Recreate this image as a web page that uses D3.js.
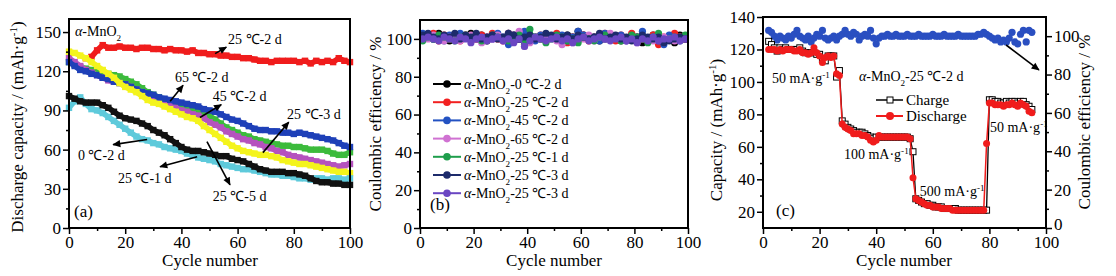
<!DOCTYPE html>
<html>
<head>
<meta charset="utf-8">
<script src="https://cdn.jsdelivr.net/npm/d3@7"></script>
<style>
body { margin: 0; background: #fff; }
svg { display: block; font-family: "Liberation Serif", "Times New Roman", serif; }
</style>
</head>
<body>
<div id="chart"></div>
<script>
// ---------- data ----------
// panel (a): discharge capacity, every 2nd cycle
const cyclesA = d3.range(0, 101, 2);
const capRed25_2 = [null, null, null, 130, 131, 136, 140, 138, 138, 139, 138, 138, 137, 138, 138, 137, 137, 136, 137, 136, 136, 135, 136, 134, 134, 133, 133, 132, 132, 131, 131, 130, 130, 129, 128, 128, 127, 128, 128, 128, 128, 127, 128, 126, 128, 127, 128, 127, 130, 128, 127];
const capBlue45 = [127, 124, 121, 120, 118, 117, 115, 114, 112, 111, 110, 108, 106, 104, 103, 102, 100, 99, 98, 97, 96, 95, 94, 93, 91, 90, 89, 87, 85, 83, 82, 80, 78, 76, 75, 75, 74, 74, 73, 73, 72, 73, 72, 71, 70, 69, 68, 67, 65, 63, 62];
const capGreen = [127, 125, 123, 122, 121, 120, 119, 118, 117, 116, 114, 112, 110, 107, 104, 102, 100, 98, 96, 95, 93, 92, 91, 90, 88, 86, 83, 80, 77, 75, 73, 71, 70, 68, 67, 66, 65, 64, 63, 63, 62, 62, 61, 60, 60, 60, 59, 57, 56, 56, 58];
const capMagenta = [130, 127, 124, 121, 119, 117, 115, 113, 112, 111, 110, 108, 106, 104, 102, 100, 98, 96, 94, 92, 90, 89, 87, 86, 84, 81, 79, 77, 74, 72, 70, 68, 67, 65, 64, 62, 61, 59, 58, 56, 55, 54, 53, 52, 51, 50, 49, 48, 47, 48, 49];
const capYellow = [135, 134, 132, 130, 127, 124, 121, 118, 115, 111, 108, 106, 104, 101, 98, 96, 95, 93, 91, 89, 87, 85, 84, 82, 78, 75, 72, 69, 66, 63, 61, 59, 58, 57, 56, 56, 55, 54, 52, 51, 50, 49, 49, 48, 47, 46, 45, 44, 43, 43, 42];
const capCyan = [92, 97, 100, 95, 91, 90, 88, 85, 82, 79, 76, 73, 70, 68, 67, 65, 64, 62, 61, 60, 59, 57, 56, 54, 53, 52, 51, 49, 48, 47, 46, 45, 45, 44, 43, 42, 41, 41, 40, 40, 39, 38, 38, 37, 38, 38, 37, 38, 38, 37, 38];
const capBlack0 = [101, 99, 97, 96, 96, 96, 94, 92, 89, 86, 84, 83, 82, 80, 78, 75, 73, 71, 68, 65, 62, 60, 59, 59, 58, 57, 56, 55, 55, 53, 52, 51, 49, 47, 45, 44, 43, 43, 43, 42, 42, 41, 40, 38, 36, 35, 35, 34, 34, 33, 33];

// panel (b): coulombic efficiency, every 2nd cycle
const cyclesB = d3.range(1, 100, 2);
const legendB = ["0 ℃-2 d", "25 ℃-2 d", "45 ℃-2 d", "65 ℃-2 d", "25 ℃-1 d", "25 ℃-3 d", "25 ℃-3 d"];
const ceBlack = [101, 102, 100, 103, 101, 99, 102, 100, 101, 103, 100, 102, 99, 101, 102, 100, 103, 101, 100, 99, 102, 101, 100, 102, 101, 100, 99, 102, 101, 104, 102, 100, 101, 99, 102, 100, 101, 99, 100, 102, 101, 98, 100, 102, 101, 99, 100, 98, 102, 100];
const ceRed = [100, 101, 103, 99, 102, 100, 101, 99, 102, 101, 100, 102, 101, 103, 100, 99, 101, 102, 100, 97, 101, 100, 102, 99, 101, 103, 100, 98, 101, 100, 102, 99, 101, 100, 103, 101, 99, 102, 100, 103, 101, 100, 99, 102, 97, 101, 100, 103, 101, 100];
const ceBlue = [103, 102, 100, 101, 99, 102, 100, 103, 101, 100, 102, 99, 101, 100, 103, 101, 97, 102, 100, 104, 101, 99, 102, 100, 101, 100, 102, 99, 101, 104, 102, 100, 101, 99, 103, 100, 101, 102, 99, 100, 101, 104, 100, 101, 99, 97, 102, 100, 99, 101];
const cePink = [101, 100, 102, 101, 99, 101, 100, 99, 101, 102, 100, 98, 101, 100, 102, 99, 103, 101, 104, 96, 98, 101, 100, 102, 101, 99, 97, 100, 98, 101, 100, 102, 99, 101, 100, 103, 101, 100, 99, 101, 98, 101, 100, 99, 102, 101, 100, 99, 101, 100];
const ceGreen = [99, 101, 100, 102, 101, 100, 99, 101, 102, 100, 101, 99, 100, 102, 101, 100, 99, 101, 102, 98, 105, 101, 100, 98, 100, 102, 101, 99, 100, 98, 101, 100, 99, 101, 102, 100, 101, 99, 100, 102, 101, 100, 98, 101, 103, 99, 100, 101, 100, 102];
const ceNavy = [102, 103, 101, 100, 102, 101, 103, 100, 102, 101, 103, 100, 101, 102, 100, 101, 103, 102, 100, 101, 102, 100, 101, 103, 102, 100, 101, 102, 100, 102, 101, 100, 101, 103, 100, 101, 102, 100, 101, 99, 100, 102, 101, 100, 101, 98, 99, 100, 101, 100];
const cePurple = [100, 101, 100, 99, 101, 100, 99, 101, 100, 98, 100, 101, 99, 100, 101, 99, 100, 98, 100, 96, 99, 101, 100, 99, 100, 101, 99, 100, 98, 100, 101, 99, 100, 101, 100, 99, 100, 101, 99, 100, 98, 100, 99, 101, 99, 100, 100, 101, 99, 100];

// panel (c): rate test, cycles 2..95
const cyclesC = d3.range(2, 96);
const charge = [125, 123, 121, 119, 121, 120, 121, 120, 120, 120,
  120, 121, 119, 118, 118, 118, 118, 117, 117, 114,
  113, 116, 116, 116, 103, 107, 76, 74, 72, 71,
  70, 69, 69, 69, 68, 67, 66, 65, 66, 66,
  66, 66, 66, 66, 66, 66, 66, 66, 66, 66,
  65, 57, 28, 27, 26, 25, 25, 24, 24, 23,
  23, 23, 22, 22, 22, 22, 22, 21, 21, 21,
  21, 21, 21, 21, 21, 21, 21, 21, 89, 89,
  88, 88, 87, 87, 88, 87, 88, 88, 87, 88,
  88, 86, 85, 83];
const discharge = [120, 120, 120, 119, 120, 119, 120, 120, 120, 119,
  119, 120, 118, 118, 117, 118, 121, 118, 116, 112,
  115, 116, 115, 116, 105, 104, 74, 72, 71, 70,
  68, 68, 68, 67, 67, 66, 64, 63, 64, 67,
  66, 66, 66, 66, 66, 66, 66, 66, 66, 66,
  65, 41, 28, 27, 26, 25, 24, 24, 23, 23,
  23, 22, 22, 22, 22, 21, 21, 21, 21, 21,
  21, 21, 21, 21, 21, 21, 21, 62, 87, 87,
  86, 86, 86, 85, 86, 86, 87, 86, 85, 87,
  86, 85, 82, 81];
const effC = [103, 102, 100, 98, 100, 99, 98, 100, 99, 101,
  103, 100, 99, 98, 100, 97, 99, 101, 100, 103,
  99, 98, 99, 100, 98, 100, 101, 103, 101, 100,
  102, 101, 98, 100, 101, 100, 103, 99, 96, 99,
  100, 100, 101, 100, 100, 101, 100, 100, 100, 101,
  100, 100, 100, 101, 100, 100, 100, 100, 101, 100,
  100, 100, 101, 100, 100, 100, 100, 101, 100, 100,
  100, 100, 100, 100, 101, 101, 102, 101, 100, 99,
  98, 99, 97, 98, 97, 99, 102, 97, 96, 101,
  103, 97, 103, 102];

const xTicks = [0, 20, 40, 60, 80, 100];

// ---------- setup ----------
const width = 1116, height = 276;
const svg = d3.select("#chart").append("svg")
    .attr("width", width)
    .attr("height", height);

svg.append("rect").attr("width", width).attr("height", height).attr("fill", "#fff");

const defs = svg.append("defs");
defs.append("marker")
    .attr("id", "arrow")
    .attr("viewBox", "0 0 10 10")
    .attr("refX", 9).attr("refY", 5)
    .attr("markerUnits", "userSpaceOnUse")
    .attr("markerWidth", 9).attr("markerHeight", 8)
    .attr("orient", "auto")
    .append("path").attr("d", "M0,0.5L10,5L0,9.5Z").attr("fill", "#000");

function styleAxis(a) {
    a.select(".domain").remove();
    a.selectAll("line").attr("stroke", "#000").attr("stroke-width", 1.5);
    a.selectAll("text").attr("font-size", 17).attr("fill", "#000")
        .attr("font-family", "Liberation Serif, serif");
}

function axisPair(gen, scale, major, minor, transform, g) {
    const m = g.append("g").attr("transform", transform)
        .call(gen(scale).tickValues(minor).tickSize(3).tickFormat(""));
    styleAxis(m);
    const a = g.append("g").attr("transform", transform)
        .call(gen(scale).tickValues(major).tickSize(6).tickPadding(2).tickSizeOuter(0));
    styleAxis(a);
    return a;
}

function frame(g, x0, y0, x1, y1) {
    g.append("rect")
        .attr("x", x0).attr("y", y0)
        .attr("width", x1 - x0).attr("height", y1 - y0)
        .attr("fill", "none").attr("stroke", "#000").attr("stroke-width", 2);
}

// text with italic / sub / sup parts
function rich(g, x, y, parts, size, rotate) {
    const t = g.append("text").attr("font-size", size).attr("fill", "#000");
    if (rotate) {
        t.attr("transform", `translate(${x},${y}) rotate(-90)`).attr("text-anchor", "middle");
    } else {
        t.attr("x", x).attr("y", y);
    }
    parts.forEach(p => {
        const s = t.append("tspan").text(p[0]);
        if (p[1] === "i") s.attr("font-style", "italic");
        if (p[1] === "sub") s.attr("font-size", size * 0.65).attr("baseline-shift", "sub");
        if (p[1] === "sup") s.attr("font-size", size * 0.65).attr("baseline-shift", "super");
    });
    return t;
}

function arrow(g, p1, p2) {
    g.append("line")
        .attr("x1", p1[0]).attr("y1", p1[1])
        .attr("x2", p2[0]).attr("y2", p2[1])
        .attr("stroke", "#000").attr("stroke-width", 1.6)
        .attr("marker-end", "url(#arrow)");
}

const mnO2 = [["α", "i"], ["-MnO"], ["2", "sub"]];
const unitCap = [["(mAh·g"], ["-1", "sup"], [")"]];
const mAg = v => [[v + " mA·g"], ["-1", "sup"]];

// ---------- panel (a) ----------
const gA = svg.append("g");
const xA = d3.scaleLinear().domain([0, 100]).range([69, 350]);
const yA = d3.scaleLinear().domain([0, 160]).range([228, 19]);

const seriesA = [
    { v: capRed25_2, c: "#f01c1c" },
    { v: capGreen, c: "#3cbb3c" },
    { v: capMagenta, c: "#b552be" },
    { v: capBlue45, c: "#1e40b8" },
    { v: capYellow, c: "#f4f41c" },
    { v: capCyan, c: "#5ecadb" },
    { v: capBlack0, c: "#111" }
];
const lineA = d3.line()
    .defined(d => d[1] != null)
    .x(d => xA(d[0])).y(d => yA(d[1]));

seriesA.forEach(s => {
    const pts = cyclesA.map((c, i) => [c, s.v[i]]);
    gA.append("path")
        .datum(pts)
        .attr("d", lineA)
        .attr("fill", "none")
        .attr("stroke", s.c)
        .attr("stroke-width", 5.5)
        .attr("stroke-linejoin", "round");
    // dense square markers give the ragged band look
    gA.selectAll(null).data(pts.filter(d => d[1] != null)).enter().append("rect")
        .attr("x", d => xA(d[0]) - 3.2).attr("y", d => yA(d[1]) - 3.2)
        .attr("width", 6.4).attr("height", 6.4)
        .attr("fill", s.c);
});

axisPair(d3.axisBottom, xA, xTicks, d3.range(10, 100, 20), "translate(0,228)", gA);
axisPair(d3.axisLeft, yA, [0, 30, 60, 90, 120, 150], d3.range(15, 160, 30), "translate(69,0)", gA);
frame(gA, 69, 19, 350, 228);

const notesA = [
    { t: "25 ℃-2 d", at: [56.6, 140.5], from: [52.0, 133.5], to: [56.0, 138.5] },
    { t: "65 ℃-2 d", at: [37.7, 111.5], from: [36.0, 97.0], to: [40.6, 109.2] },
    { t: "45 ℃-2 d", at: [51.2, 97.0], from: [46.6, 84.6], to: [54.2, 94.5] },
    { t: "25 ℃-3 d", at: [77.6, 83.8], from: [69.0, 57.7], to: [78.2, 81.0] },
    { t: "0 ℃-2 d", at: [3.2, 52.3], from: [27.8, 67.7], to: [15.7, 63.8] },
    { t: "25 ℃-1 d", at: [17.4, 34.6], from: [45.6, 54.6], to: [32.4, 46.9] },
    { t: "25 ℃-5 d", at: [51.2, 20.8], from: [49.1, 66.2], to: [57.3, 33.1] }
];
notesA.forEach(n => {
    gA.append("text").attr("x", xA(n.at[0])).attr("y", yA(n.at[1]))
        .attr("font-size", 14).text(n.t);
    arrow(gA, [xA(n.from[0]), yA(n.from[1])], [xA(n.to[0]), yA(n.to[1])]);
});
rich(gA, 75, 36, mnO2, 14);
gA.append("text").attr("x", 74).attr("y", 217).attr("font-size", 17).text("(a)");

rich(gA, 23, 127, [["Discharge capacity / "]].concat(unitCap), 17, true);
gA.append("text").attr("x", 210).attr("y", 266).attr("text-anchor", "middle")
    .attr("font-size", 17).text("Cycle number");

// ---------- panel (b) ----------
const gB = svg.append("g");
const xB = d3.scaleLinear().domain([0, 100]).range([420, 688]);
const yB = d3.scaleLinear().domain([0, 110]).range([228, 20]);
const seriesB = [
    { v: ceBlack, c: "#000" },
    { v: ceRed, c: "#f22020" },
    { v: ceBlue, c: "#2352c2" },
    { v: cePink, c: "#d072d2" },
    { v: ceGreen, c: "#1f9e4c" },
    { v: ceNavy, c: "#1d2b6b" },
    { v: cePurple, c: "#6a46c2" }
];
const lineB = d3.line().x(d => xB(d[0])).y(d => yB(d[1]));
seriesB.forEach(s => {
    const pts = cyclesB.map((c, i) => [c, s.v[i]]);
    gB.append("path").datum(pts).attr("d", lineB)
        .attr("fill", "none").attr("stroke", s.c).attr("stroke-width", 1.5);
    gB.selectAll(null).data(pts).enter().append("circle")
        .attr("cx", d => xB(d[0])).attr("cy", d => yB(d[1]))
        .attr("r", 3.6).attr("fill", s.c);
});

axisPair(d3.axisBottom, xB, xTicks, d3.range(10, 100, 20), "translate(0,228)", gB);
axisPair(d3.axisLeft, yB, [0, 20, 40, 60, 80, 100], d3.range(10, 110, 20), "translate(420,0)", gB);
frame(gB, 420, 20, 688, 228);

seriesB.forEach((s, i) => {
    const y = 84 + i * 18.2;
    gB.append("line").attr("x1", 433).attr("x2", 461).attr("y1", y).attr("y2", y)
        .attr("stroke", s.c).attr("stroke-width", 2);
    gB.append("circle").attr("cx", 447).attr("cy", y).attr("r", 3.8).attr("fill", s.c);
    rich(gB, 464, y + 5, mnO2.concat([["-" + legendB[i]]]), 14);
});
gB.append("text").attr("x", 430).attr("y", 210).attr("font-size", 17).text("(b)");

rich(gB, 381, 124, [["Coulombic efficiency / %"]], 17, true);
gB.append("text").attr("x", 554).attr("y", 266).attr("text-anchor", "middle")
    .attr("font-size", 17).text("Cycle number");

// ---------- panel (c) ----------
const gC = svg.append("g");
const xC = d3.scaleLinear().domain([0, 100]).range([763, 1046]);
const yC = d3.scaleLinear().domain([10, 140]).range([228, 17]);
const yC2 = d3.scaleLinear().domain([0, 110]).range([228, 17]);

const lineC = d3.line().x(d => xC(d[0])).y(d => yC(d[1]));
const chargePts = cyclesC.map((c, i) => [c, charge[i]]);
const dischargePts = cyclesC.map((c, i) => [c, discharge[i]]);

gC.selectAll(null).data(cyclesC.map((c, i) => [c, effC[i]])).enter().append("circle")
    .attr("cx", d => xC(d[0])).attr("cy", d => yC2(d[1]))
    .attr("r", 3.6).attr("fill", "#2a4fc1");

gC.append("path").datum(chargePts).attr("d", lineC)
    .attr("fill", "none").attr("stroke", "#000").attr("stroke-width", 1.3);
gC.selectAll(null).data(chargePts).enter().append("rect")
    .attr("x", d => xC(d[0]) - 3).attr("y", d => yC(d[1]) - 3)
    .attr("width", 6).attr("height", 6)
    .attr("fill", "#fff").attr("stroke", "#000").attr("stroke-width", 1);

gC.append("path").datum(dischargePts).attr("d", lineC)
    .attr("fill", "none").attr("stroke", "#f01c1c").attr("stroke-width", 1.5);
gC.selectAll(null).data(dischargePts).enter().append("circle")
    .attr("cx", d => xC(d[0])).attr("cy", d => yC(d[1]))
    .attr("r", 3.5).attr("fill", "#f01c1c");

axisPair(d3.axisBottom, xC, xTicks, d3.range(10, 100, 20), "translate(0,228)", gC);
axisPair(d3.axisLeft, yC, [20, 40, 60, 80, 100, 120, 140], d3.range(30, 140, 20), "translate(763,0)", gC);
const rightAx = axisPair(d3.axisRight, yC2, [0, 20, 40, 60, 80, 100], d3.range(10, 110, 20), "translate(1046,0)", gC);
// lift the right-hand "0" so it clears the "100" below
rightAx.selectAll(".tick text").filter(d => d === 0).attr("dy", "0.1em");
frame(gC, 763, 17, 1046, 228);

// legend (c)
gC.append("line").attr("x1", 876).attr("x2", 903).attr("y1", 100).attr("y2", 100)
    .attr("stroke", "#000").attr("stroke-width", 1.5);
gC.append("rect").attr("x", 887).attr("y", 97).attr("width", 6).attr("height", 6)
    .attr("fill", "#fff").attr("stroke", "#000");
gC.append("text").attr("x", 906).attr("y", 105).attr("font-size", 15).text("Charge");
gC.append("line").attr("x1", 876).attr("x2", 903).attr("y1", 116).attr("y2", 116)
    .attr("stroke", "#f01c1c").attr("stroke-width", 2);
gC.append("circle").attr("cx", 890).attr("cy", 116).attr("r", 4).attr("fill", "#f01c1c");
gC.append("text").attr("x", 906).attr("y", 121).attr("font-size", 15).text("Discharge");

rich(gC, xC(3.2), yC(99.3), mAg(50), 14);
rich(gC, xC(33.9), yC(100.6), mnO2.concat([["-25 ℃-2 d"]]), 14);
rich(gC, xC(28.6), yC(52.5), mAg(100), 14);
rich(gC, xC(55.4), yC(29.7), mAg(500), 14);
rich(gC, xC(80.2), yC(69), mAg(50), 14);
gC.append("text").attr("x", xC(4.6)).attr("y", yC(17.4)).attr("font-size", 17).text("(c)");
arrow(gC, [xC(85.9), yC2(95.4)], [xC(97.5), yC2(82.4)]);

rich(gC, 722, 130, [["Capacity / "]].concat(unitCap), 17, true);
rich(gC, 1090, 122, [["Coulombic efficiency / %"]], 17, true);
gC.append("text").attr("x", 904).attr("y", 266).attr("text-anchor", "middle")
    .attr("font-size", 17).text("Cycle number");
</script>
</body>
</html>
